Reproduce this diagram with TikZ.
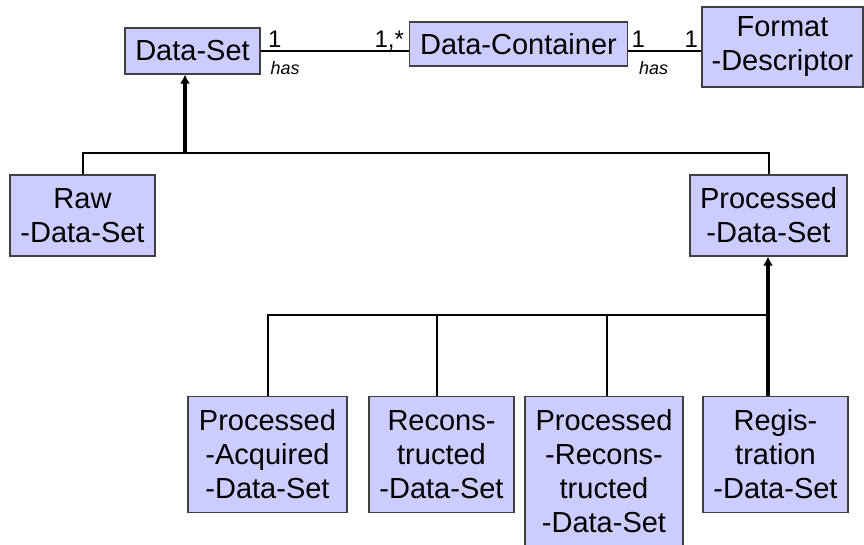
\documentclass[tikz,border=0pt]{standalone}
\usepackage{fontspec}
\setmainfont{Liberation Sans}
\usetikzlibrary{arrows.meta,calc,positioning}
\definecolor{boxfill}{HTML}{CCCCFF}
\definecolor{boxline}{HTML}{404040}
\tikzstyle{classbox} = [rectangle,inner sep=0pt,align=center,draw=boxline,line width=1.2pt,fill=boxfill,font=\fontsize{29}{34}\selectfont]
\tikzstyle{multlab} = [inner sep=1pt,font=\fontsize{24}{26}\selectfont]
\tikzstyle{rolelab} = [inner sep=1pt,font=\fontsize{18}{20}\selectfont\itshape]
\tikzstyle{assoc} = [line width=2pt]
\tikzstyle{genline} = [line width=2pt]
\tikzstyle{genarrow} = [line width=3.4pt,-{Latex[length=9pt,width=10pt]}]

\begin{document}
\begin{tikzpicture}[x=1pt,y=-1pt]
\useasboundingbox (0,0) rectangle (864,545);

\node (dset) [classbox,minimum width=135pt,minimum height=46pt] at (192.5,51) {Data-Set};
\node (dcont) [classbox,minimum width=218pt,minimum height=44pt] at (518.5,44) {Data-Container};
\node (fdesc) [classbox,minimum width=161pt,minimum height=80pt] at (782.5,47) {Format\\-Descriptor};
\node (rawds) [classbox,minimum width=145pt,minimum height=81pt] at (82.5,215.5) {Raw\\-Data-Set};
\node (procds) [classbox,minimum width=157pt,minimum height=81pt] at (768.5,215.5) {Processed\\-Data-Set};
\node (procacq) [classbox,minimum width=159pt,minimum height=116pt] at (267.5,454.5) {Processed\\-Acquired\\-Data-Set};
\node (recon) [classbox,minimum width=145pt,minimum height=116pt] at (441.5,454.5) {Recons-\\tructed\\-Data-Set};
\node (procrec) [classbox,minimum width=158pt,minimum height=150pt] at (604,471.5) {Processed\\-Recons-\\tructed\\-Data-Set};
\node (regds) [classbox,minimum width=145pt,minimum height=116pt] at (775.5,454.5) {Regis-\\tration\\-Data-Set};

% associations
\draw[assoc] (dset.east) -- (dset.east -| dcont.west)
  node[multlab,pos=0,anchor=base west,xshift=5.5pt,yshift=3pt] {1}
  node[rolelab,pos=0,anchor=base west,xshift=8pt,yshift=-24pt] {has}
  node[multlab,pos=1,anchor=base east,xshift=-3pt,yshift=3pt] {1,*};
\draw[assoc] (dcont.east |- dset.east) -- (fdesc.west |- dset.east)
  node[multlab,pos=0,anchor=base west,xshift=1.5pt,yshift=3pt] {1}
  node[rolelab,pos=0,anchor=base west,xshift=9pt,yshift=-24pt] {has}
  node[multlab,pos=1,anchor=base east,xshift=-1.5pt,yshift=3pt] {1};

% generalisation of Data-Set
\coordinate (gen1) at (185,153);
\draw[genline] (rawds.north) |- (gen1) -| (procds.north);
\draw[genarrow] (gen1) -- (gen1 |- dset.south);

% generalisation of Processed-Data-Set
\coordinate (gen2) at (768,315);
\draw[genline] (procacq.north) |- (gen2);
\draw[genline] ([xshift=-4.5pt]recon.north) |- (gen2);
\draw[genline] ([xshift=3pt]procrec.north) |- (gen2);
\draw[genline,line width=3.4pt] (gen2 |- regds.north) -- (gen2);
\draw[genarrow] (gen2) -- (gen2 |- procds.south);

\end{tikzpicture}
\end{document}
